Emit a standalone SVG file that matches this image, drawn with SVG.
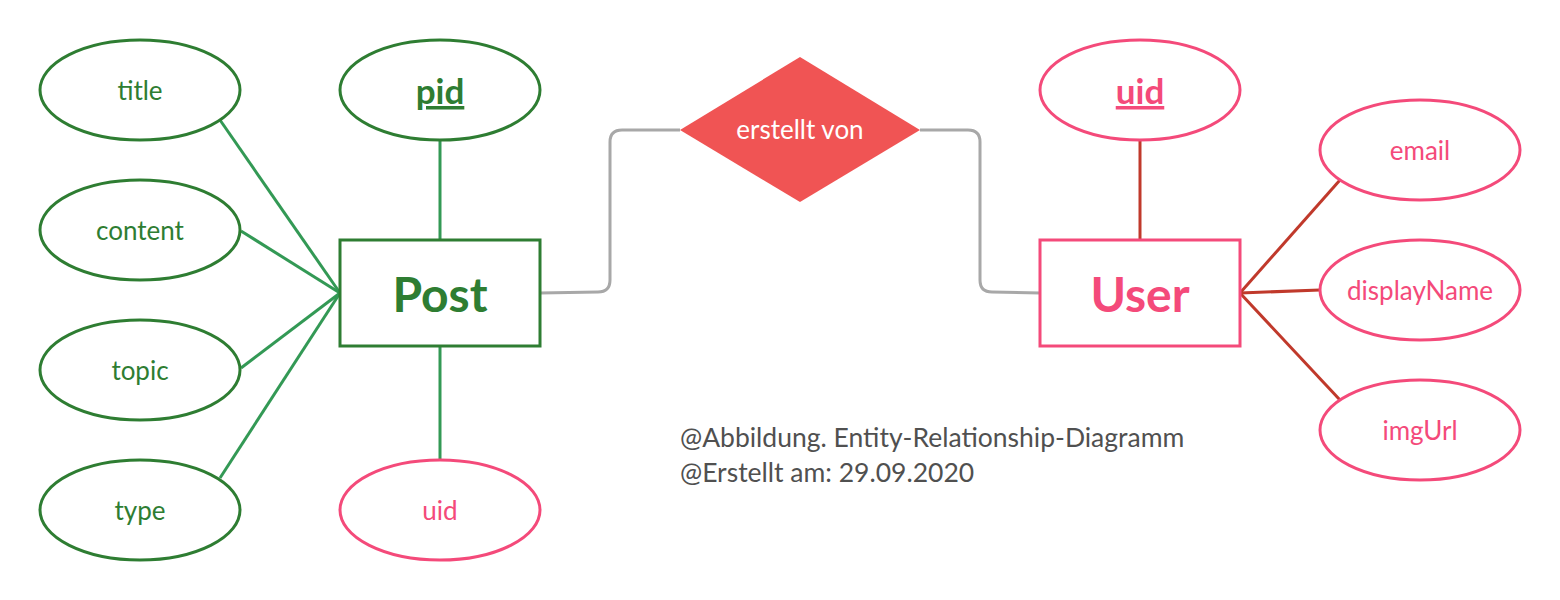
<svg xmlns="http://www.w3.org/2000/svg" width="1560" height="600" viewBox="0 0 1560 600">
<style>
text{font-family:Lato,"Open Sans","Liberation Sans",sans-serif;text-anchor:middle}
.ge{fill:#fff;stroke:#2e7d32;stroke-width:3}
.pe{fill:#fff;stroke:#f44a7a;stroke-width:3}
.gt{fill:#2e7d32;font-size:26px}
.pt{fill:#f44a7a;font-size:26px}
.key{font-size:35px;font-weight:bold;text-decoration:underline}
.ent{font-size:48px;font-weight:bold}
.gl{stroke:#339955;stroke-width:3;fill:none}
.rl{stroke:#c0392b;stroke-width:3;fill:none}
.gray{stroke:#a8a8a8;stroke-width:3;fill:none}
.cap{fill:#505050;font-size:26.5px;text-anchor:start}
</style>
<g id="connectors">
<line class="gl" x1="220" y1="120" x2="340" y2="293"/>
<line class="gl" x1="241" y1="231" x2="340" y2="293"/>
<line class="gl" x1="241" y1="368" x2="340" y2="293"/>
<line class="gl" x1="220" y1="478" x2="340" y2="293"/>
<line class="gl" x1="440" y1="140" x2="440" y2="240"/>
<line class="gl" x1="440" y1="346" x2="440" y2="460"/>
<path class="gray" d="M540 293 L598 292 Q610 292 610 280 L610 142 Q610 130 622 130 L680 130"/>
<path class="gray" d="M920 130 L968 130 Q980 130 980 142 L980 280 Q980 292 992 292 L1040 293"/>
<line class="rl" x1="1140" y1="140" x2="1140" y2="240"/>
<line class="rl" x1="1240" y1="293" x2="1340" y2="180"/>
<line class="rl" x1="1240" y1="293" x2="1320" y2="290"/>
<line class="rl" x1="1240" y1="293" x2="1340" y2="400"/>
</g>
<g id="title"><ellipse class="ge" cx="140" cy="90" rx="100" ry="50"/><text class="gt" x="140" y="100">title</text></g>
<g id="content"><ellipse class="ge" cx="140" cy="230" rx="100" ry="50"/><text class="gt" x="140" y="240">content</text></g>
<g id="topic"><ellipse class="ge" cx="140" cy="370" rx="100" ry="50"/><text class="gt" x="140" y="380">topic</text></g>
<g id="type"><ellipse class="ge" cx="140" cy="510" rx="100" ry="50"/><text class="gt" x="140" y="520">type</text></g>
<g id="pid"><ellipse class="ge" cx="440" cy="90" rx="100" ry="50"/><text class="gt key" x="440" y="104">pid</text></g>
<g id="post"><rect x="340" y="240" width="200" height="106" fill="#fff" stroke="#2e7d32" stroke-width="3"/><text class="gt ent" x="440" y="312">Post</text></g>
<g id="post-uid"><ellipse class="pe" cx="440" cy="510" rx="100" ry="50"/><text class="pt" x="440" y="520">uid</text></g>
<g id="erstellt-von"><polygon points="800,57 920,130 800,202 680,130" fill="#f05454"/><text x="800" y="139" fill="#fff" font-size="26px">erstellt von</text></g>
<g id="user"><rect x="1040" y="240" width="200" height="106" fill="#fff" stroke="#f44a7a" stroke-width="3"/><text class="pt ent" x="1140" y="312">User</text></g>
<g id="user-uid"><ellipse class="pe" cx="1140" cy="90" rx="100" ry="50"/><text class="pt key" x="1140" y="104">uid</text></g>
<g id="email"><ellipse class="pe" cx="1420" cy="150" rx="100" ry="50"/><text class="pt" x="1420" y="160">email</text></g>
<g id="displayName"><ellipse class="pe" cx="1420" cy="290" rx="100" ry="50"/><text class="pt" x="1420" y="300">displayName</text></g>
<g id="imgUrl"><ellipse class="pe" cx="1420" cy="430" rx="100" ry="50"/><text class="pt" x="1420" y="440">imgUrl</text></g>
<g id="caption"><text class="cap" x="680" y="447">@Abbildung. Entity-Relationship-Diagramm</text><text class="cap" x="680" y="482">@Erstellt am: 29.09.2020</text></g>
</svg>
